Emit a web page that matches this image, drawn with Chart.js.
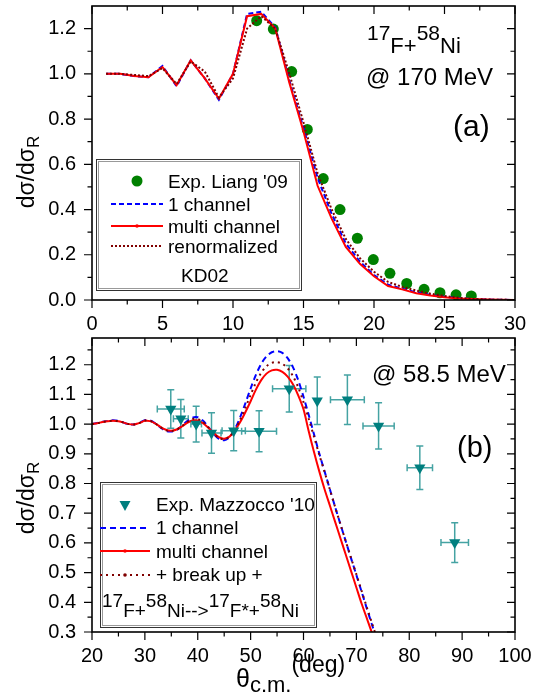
<!DOCTYPE html>
<html>
<head>
<meta charset="utf-8">
<script src="https://cdn.jsdelivr.net/npm/chart.js@4"></script>
<style>
  body { margin: 0; background: #fff; }
  #wrap { position: relative; width: 538px; height: 694px; }
  canvas { position: absolute; left: 0; }
</style>
</head>
<body>
<div id="wrap">
  <canvas id="chartA" width="538" height="334" style="top:0"></canvas>
  <canvas id="chartB" width="538" height="360" style="top:334px"></canvas>
</div>
<script>
// ---- panel (a): 17F+58Ni @ 170 MeV
const thetaA = [1, 2, 3, 4, 5, 6, 7, 8, 9, 10, 11, 12, 13, 14, 15, 16, 17, 18, 19, 20, 21, 22, 23, 24, 25, 26, 27, 28, 29, 30];
const oneChA = [1.0, 1.0, 0.99, 0.985, 1.035, 0.945, 1.06, 0.98, 0.885, 1.0, 1.265, 1.275, 1.205, 0.97, 0.76, 0.54, 0.38, 0.25, 0.17, 0.11, 0.068, 0.05, 0.034, 0.022, 0.014, 0.008, 0.004, 0.002, 0.001, 0.0];
const multiA = [1.0, 1.0, 0.99, 0.985, 1.03, 0.95, 1.06, 0.98, 0.89, 1.0, 1.255, 1.265, 1.2, 0.96, 0.745, 0.505, 0.36, 0.235, 0.16, 0.105, 0.062, 0.047, 0.03, 0.02, 0.012, 0.007, 0.004, 0.002, 0.001, 0.0];
const renormA = [1.0, 1.0, 0.995, 0.99, 1.025, 0.955, 1.055, 1.01, 0.895, 0.98, 1.2, 1.255, 1.2, 1.0, 0.785, 0.56, 0.4, 0.27, 0.185, 0.125, 0.08, 0.058, 0.042, 0.028, 0.018, 0.01, 0.005, 0.002, 0.001, 0.0];
const expAX = [11.68, 12.86, 14.16, 15.27, 16.4, 17.59, 18.82, 19.95, 21.13, 22.32, 23.55, 24.68, 25.82, 26.9];
const expAY = [1.235, 1.198, 1.01, 0.754, 0.537, 0.40, 0.273, 0.179, 0.118, 0.073, 0.047, 0.032, 0.023, 0.018];
const xTicksA = [0, 5, 10, 15, 20, 25, 30];
const xMinorA = [2.5, 7.5, 12.5, 17.5, 22.5, 27.5];
const yTicksA = [0.0, 0.2, 0.4, 0.6, 0.8, 1.0, 1.2];
const yMinorA = [0.1, 0.3, 0.5, 0.7, 0.9, 1.1];

// ---- panel (b): @ 58.5 MeV
const thetaB = [20, 21, 22, 23, 24, 25, 26, 27, 28, 29, 30, 31, 32, 33, 34, 35, 36, 37, 38, 39, 40, 41, 42, 43, 44, 45, 46, 47, 48, 49, 50, 51, 52, 53, 54, 55, 56, 57, 58, 59, 60, 61, 62, 63, 64, 65, 66, 67, 68, 69, 70, 71, 72, 73, 74];
const oneChB = [1.000, 1.004, 1.008, 1.011, 1.013, 1.011, 1.005, 0.999, 0.999, 1.005, 1.013, 1.012, 1.002, 0.988, 0.977, 0.975, 0.980, 0.994, 1.010, 1.022, 1.023, 1.011, 0.990, 0.967, 0.950, 0.946, 0.956, 0.983, 1.022, 1.070, 1.120, 1.166, 1.203, 1.228, 1.242, 1.246, 1.240, 1.222, 1.192, 1.148, 1.092, 1.030, 0.965, 0.900, 0.840, 0.780, 0.720, 0.662, 0.605, 0.548, 0.492, 0.435, 0.378, 0.322, 0.268];
const multiB = [1.000, 1.003, 1.007, 1.010, 1.011, 1.010, 1.005, 1.000, 0.999, 1.004, 1.011, 1.010, 1.002, 0.990, 0.981, 0.978, 0.982, 0.992, 1.004, 1.012, 1.012, 1.003, 0.988, 0.970, 0.956, 0.951, 0.958, 0.978, 1.006, 1.040, 1.077, 1.116, 1.148, 1.170, 1.181, 1.183, 1.176, 1.160, 1.134, 1.097, 1.050, 0.975, 0.905, 0.840, 0.780, 0.725, 0.670, 0.615, 0.560, 0.505, 0.450, 0.395, 0.345, 0.295, 0.250];
const breakB = [1.000, 1.003, 1.007, 1.010, 1.012, 1.010, 1.005, 1.000, 0.999, 1.004, 1.012, 1.011, 1.002, 0.989, 0.979, 0.977, 0.981, 0.993, 1.007, 1.017, 1.017, 1.007, 0.989, 0.969, 0.953, 0.949, 0.957, 0.981, 1.014, 1.055, 1.098, 1.140, 1.173, 1.195, 1.206, 1.209, 1.203, 1.188, 1.162, 1.124, 1.074, 1.017, 0.957, 0.896, 0.838, 0.779, 0.720, 0.662, 0.605, 0.549, 0.494, 0.438, 0.382, 0.327, 0.273];
const expBX = [34.9, 36.8, 39.7, 42.6, 46.8, 51.6, 57.3, 62.6, 68.3, 74.2, 82.0, 88.6];
const expBY = [1.051, 1.018, 1.000, 0.970, 0.978, 0.976, 1.119, 1.079, 1.082, 0.994, 0.853, 0.601];
const expBXErr = [2.55, 1.4, 1.0, 1.8, 2.2, 3.3, 3.15, 0, 3.2, 2.95, 2.4, 2.6];
const expBYErr = [0.065, 0.065, 0.06, 0.068, 0.068, 0.069, 0.078, 0.08, 0.083, 0.078, 0.073, 0.067];
const xTicksB = [20, 30, 40, 50, 60, 70, 80, 90, 100];
const xMinorB = [25, 35, 45, 55, 65, 75, 85, 95];
const yTicksB = [0.3, 0.4, 0.5, 0.6, 0.7, 0.8, 0.9, 1.0, 1.1, 1.2];
const yMinorB = [0.35, 0.45, 0.55, 0.65, 0.75, 0.85, 0.95, 1.05, 1.15, 1.25];

const FONT = '"Liberation Sans", Arial, sans-serif';
const pts = (xs, ys) => xs.map((x, i) => ({ x: x, y: ys[i] }));

// text with super/subscript pieces: [text, size, dy]
function richWidth(ctx, parts) {
  let w = 0;
  parts.forEach(p => { ctx.font = p[1] + 'px ' + FONT; w += ctx.measureText(p[0]).width; });
  return w;
}
function rich(ctx, x, y, parts) {
  let cx = x;
  parts.forEach(p => {
    ctx.font = p[1] + 'px ' + FONT;
    ctx.fillText(p[0], cx, y + p[2]);
    cx += ctx.measureText(p[0]).width;
  });
}
function yTitle(ctx, x, y) {
  const parts = [['dσ/dσ', 23, 0], ['R', 17, 5]];
  ctx.save();
  ctx.translate(x, y);
  ctx.rotate(-Math.PI / 2);
  rich(ctx, -richWidth(ctx, parts) / 2, 0, parts);
  ctx.restore();
}
function legendBox(ctx, l, t, r, b) {
  ctx.fillStyle = '#fff';
  ctx.fillRect(l, t, r - l, b - t);
  ctx.lineWidth = 1;
  ctx.strokeStyle = '#333';
  ctx.strokeRect(l + 0.5, t + 0.5, r - l, b - t);
  ctx.strokeStyle = '#999';
  ctx.strokeRect(l + 2.5, t + 2.5, r - l - 4, b - t - 4);
  ctx.fillStyle = '#000';
}
function sample(ctx, ds, x0, x1, y, dot) {
  ctx.save();
  ctx.strokeStyle = ds.borderColor;
  ctx.lineWidth = ds.borderWidth;
  ctx.setLineDash(ds.borderDash || []);
  ctx.beginPath();
  ctx.moveTo(x0, y);
  ctx.lineTo(x1, y);
  ctx.stroke();
  if (dot) {
    ctx.fillStyle = ds.borderColor;
    ctx.beginPath();
    ctx.arc((x0 + x1) / 2, y, 1.8, 0, Math.PI * 2);
    ctx.fill();
  }
  ctx.restore();
}

function frameTicks(xMajor, xMinor, yMajor, yMinor) {
  return {
    id: 'frameTicks',
    afterDraw(chart) {
      const ctx = chart.ctx, a = chart.chartArea, x = chart.scales.x, y = chart.scales.y;
      ctx.save();
      ctx.strokeStyle = '#000';
      ctx.lineWidth = 1.2;
      ctx.beginPath();
      const xt = (vals, len) => vals.forEach(v => {
        const p = x.getPixelForValue(v);
        ctx.moveTo(p, a.bottom); ctx.lineTo(p, a.bottom + len);
        ctx.moveTo(p, a.top); ctx.lineTo(p, a.top + len);
      });
      const yt = (vals, len) => vals.forEach(v => {
        const p = y.getPixelForValue(v);
        ctx.moveTo(a.left, p); ctx.lineTo(a.left - len, p);
        ctx.moveTo(a.right, p); ctx.lineTo(a.right - len, p);
      });
      xt(xMajor, 8); xt(xMinor, 4.5); yt(yMajor, 8); yt(yMinor, 4.5);
      ctx.stroke();
      ctx.lineWidth = 1.6;
      ctx.strokeRect(a.left, a.top, a.right - a.left, a.bottom - a.top);
      ctx.restore();
    }
  };
}

function axes(xmin, xmax, xt, ymin, ymax, yt, xh) {
  const tickFont = { family: FONT, size: 20 };
  return {
    x: {
      type: 'linear', min: xmin, max: xmax,
      afterBuildTicks: s => { s.ticks = xt.map(v => ({ value: v })); },
      afterFit: s => { s.height = xh; s.paddingLeft = 0; s.paddingRight = 0; },
      grid: { display: false, drawTicks: false }, border: { display: false },
      ticks: { color: '#000', font: tickFont, padding: 12, maxRotation: 0, autoSkip: false, callback: v => String(v) }
    },
    y: {
      min: ymin, max: ymax,
      afterBuildTicks: s => { s.ticks = yt.map(v => ({ value: v })); },
      afterFit: s => { s.width = 92; s.paddingTop = 0; s.paddingBottom = 0; },
      grid: { display: false, drawTicks: false }, border: { display: false },
      ticks: { color: '#000', font: tickFont, padding: 16, autoSkip: false, callback: v => v.toFixed(1) }
    }
  };
}

// ---- chart (a)
new Chart(document.getElementById('chartA'), {
  type: 'line',
  data: {
    datasets: [
      { label: "Exp. Liang '09", data: pts(expAX, expAY), showLine: false, pointRadius: 5.5, pointBackgroundColor: '#008000', pointBorderWidth: 0, order: 4 },
      { label: '1 channel', data: pts(thetaA, oneChA), borderColor: '#0000ff', borderWidth: 2, borderDash: [5, 3], pointRadius: 0, order: 3 },
      { label: 'multi channel', data: pts(thetaA, multiA), borderColor: '#ff0000', borderWidth: 2, pointRadius: 0, order: 2 },
      { label: 'renormalized KD02', data: pts(thetaA, renormA), borderColor: '#800000', borderWidth: 2, borderDash: [2, 2], pointRadius: 0, order: 1 }
    ]
  },
  options: {
    responsive: false, animation: false,
    layout: { autoPadding: false, padding: { top: 6, right: 23, left: 0, bottom: 0 } },
    plugins: { legend: { display: false }, tooltip: { enabled: false } },
    scales: axes(0, 30, xTicksA, 0, 1.3, yTicksA, 34)
  },
  plugins: [frameTicks(xTicksA, xMinorA, yTicksA, yMinorA), {
    id: 'notesA',
    afterDraw(chart) {
      const ctx = chart.ctx, ds = chart.data.datasets;
      ctx.save();
      ctx.fillStyle = '#000';
      ctx.textBaseline = 'alphabetic';
      yTitle(ctx, 34, 172);
      rich(ctx, 367, 53, [['17', 21, -13], ['F+', 22, 0], ['58', 21, -13], ['Ni', 22, 0]]);
      rich(ctx, 366, 85, [['@ 170 MeV', 24, 0]]);
      rich(ctx, 453, 136, [['(a)', 30, 0]]);
      legendBox(ctx, 96, 159, 301, 290);
      ctx.fillStyle = ds[0].pointBackgroundColor;
      ctx.beginPath(); ctx.arc(137, 181, 5.5, 0, Math.PI * 2); ctx.fill();
      ctx.fillStyle = '#000';
      rich(ctx, 168, 188, [["Exp. Liang '09", 19, 0]]);
      sample(ctx, ds[1], 111, 163, 204); rich(ctx, 168, 211, [['1 channel', 19, 0]]);
      sample(ctx, ds[2], 111, 163, 226, true); rich(ctx, 168, 233, [['multi channel', 19, 0]]);
      sample(ctx, ds[3], 111, 163, 246); rich(ctx, 168, 253, [['renormalized', 19, 0]]);
      rich(ctx, 181, 282, [['KD02', 19, 0]]);
      ctx.restore();
    }
  }]
});

// ---- chart (b)
const errorBars = {
  id: 'errorBars',
  beforeDatasetsDraw(chart) {
    const ctx = chart.ctx, x = chart.scales.x, y = chart.scales.y, cap = 3.5;
    ctx.save();
    ctx.strokeStyle = '#45a3a3';
    ctx.lineWidth = 1.5;
    ctx.beginPath();
    expBX.forEach((v, i) => {
      const px = x.getPixelForValue(v), py = y.getPixelForValue(expBY[i]);
      const y0 = y.getPixelForValue(expBY[i] - expBYErr[i]), y1 = y.getPixelForValue(expBY[i] + expBYErr[i]);
      ctx.moveTo(px, y0); ctx.lineTo(px, y1);
      ctx.moveTo(px - cap, y0); ctx.lineTo(px + cap, y0);
      ctx.moveTo(px - cap, y1); ctx.lineTo(px + cap, y1);
      if (expBXErr[i] > 0) {
        const x0 = x.getPixelForValue(v - expBXErr[i]), x1 = x.getPixelForValue(v + expBXErr[i]);
        ctx.moveTo(x0, py); ctx.lineTo(x1, py);
        ctx.moveTo(x0, py - cap); ctx.lineTo(x0, py + cap);
        ctx.moveTo(x1, py - cap); ctx.lineTo(x1, py + cap);
      }
    });
    ctx.stroke();
    ctx.restore();
  }
};

new Chart(document.getElementById('chartB'), {
  type: 'line',
  data: {
    datasets: [
      { label: "Exp. Mazzocco '10", data: pts(expBX, expBY), showLine: false, pointStyle: 'triangle', rotation: 180, pointRadius: 6.5, pointBackgroundColor: '#007f7f', pointBorderWidth: 0, order: 0 },
      { label: '1 channel', data: pts(thetaB, oneChB), borderColor: '#0000ff', borderWidth: 2, borderDash: [6, 4], pointRadius: 0, tension: 0.3, order: 3 },
      { label: 'multi channel', data: pts(thetaB, multiB), borderColor: '#ff0000', borderWidth: 2, pointRadius: 0, tension: 0.3, order: 2 },
      { label: '+ break up +', data: pts(thetaB, breakB), borderColor: '#800000', borderWidth: 2, borderDash: [2, 4], pointRadius: 0, tension: 0.3, order: 1 }
    ]
  },
  options: {
    responsive: false, animation: false,
    layout: { autoPadding: false, padding: { top: 4, right: 23, left: 0, bottom: 0 } },
    plugins: { legend: { display: false }, tooltip: { enabled: false } },
    scales: axes(20, 100, xTicksB, 0.3, 1.29, yTicksB, 62)
  },
  plugins: [errorBars, frameTicks(xTicksB, xMinorB, yTicksB, yMinorB), {
    id: 'notesB',
    afterDraw(chart) {
      const ctx = chart.ctx, ds = chart.data.datasets;
      ctx.save();
      ctx.fillStyle = '#000';
      ctx.textBaseline = 'alphabetic';
      yTitle(ctx, 34, 164);
      rich(ctx, 372, 48, [['@ 58.5 MeV', 24, 0]]);
      rich(ctx, 457, 123, [['(b)', 29, 0]]);
      rich(ctx, 236, 353, [['θ', 25, 0], ['c.m.', 22, 5], ['(deg)', 23, -15]]);
      legendBox(ctx, 100, 148, 316, 293);
      // triangle marker
      ctx.fillStyle = ds[0].pointBackgroundColor;
      ctx.beginPath(); ctx.moveTo(119.5, 167); ctx.lineTo(130.5, 167); ctx.lineTo(125, 177); ctx.closePath(); ctx.fill();
      ctx.fillStyle = '#000';
      rich(ctx, 156, 177, [["Exp. Mazzocco '10", 19, 0]]);
      sample(ctx, ds[1], 100, 150, 194); rich(ctx, 156, 200, [['1 channel', 19, 0]]);
      sample(ctx, ds[2], 100, 150, 217, true); rich(ctx, 156, 224, [['multi channel', 19, 0]]);
      sample(ctx, ds[3], 100, 150, 241, true); rich(ctx, 156, 247, [['+ break up +', 19, 0]]);
      rich(ctx, 102, 283, [['17', 19, -10], ['F+', 19, 0], ['58', 19, -10], ['Ni-->', 19, 0], ['17', 19, -10], ['F*+', 19, 0], ['58', 19, -10], ['Ni', 19, 0]]);
      ctx.restore();
    }
  }]
});
</script>
</body>
</html>
